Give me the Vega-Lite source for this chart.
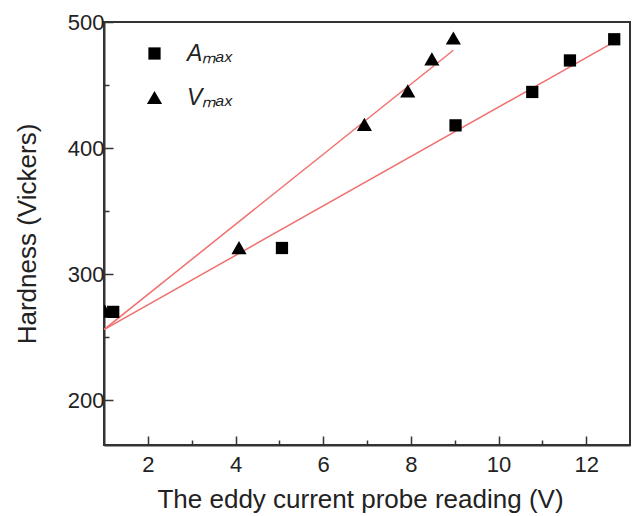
{
  "$schema": "https://vega.github.io/schema/vega-lite/v6.json",
  "width": 526,
  "height": 423,
  "autosize": "none",
  "padding": {"left": 104, "top": 22, "right": 2, "bottom": 71},
  "background": "white",
  "config": {
    "font": "Liberation Sans",
    "view": {"stroke": "#333", "strokeWidth": 2},
    "axis": {
      "grid": false,
      "domainColor": "#333",
      "domainWidth": 2,
      "tickColor": "#333",
      "tickWidth": 1.5,
      "labelFontSize": 22,
      "labelColor": "#222",
      "titleFontSize": 26,
      "titleFontWeight": "normal",
      "titleColor": "#222"
    },
    "legend": {
      "title": null,
      "orient": "none",
      "legendX": 39,
      "legendY": 20,
      "padding": 0,
      "symbolFillColor": "black",
      "symbolStrokeWidth": 0,
      "labelFontSize": 23,
      "labelFontStyle": "italic",
      "labelColor": "#222",
      "labelOffset": 21,
      "rowPadding": 20
    }
  },
  "datasets": {
    "points": [
      {"series": "Aₘₐₓ", "x": 1.21, "y": 270},
      {"series": "Aₘₐₓ", "x": 5.06, "y": 320.7},
      {"series": "Aₘₐₓ", "x": 9.02, "y": 418},
      {"series": "Aₘₐₓ", "x": 10.77, "y": 444.5},
      {"series": "Aₘₐₓ", "x": 11.63, "y": 469.5},
      {"series": "Aₘₐₓ", "x": 12.64, "y": 486.3},
      {"series": "Vₘₐₓ", "x": 1.02, "y": 270.6},
      {"series": "Vₘₐₓ", "x": 4.08, "y": 321},
      {"series": "Vₘₐₓ", "x": 6.94, "y": 418.8},
      {"series": "Vₘₐₓ", "x": 7.93, "y": 445.4},
      {"series": "Vₘₐₓ", "x": 8.48, "y": 470.7},
      {"series": "Vₘₐₓ", "x": 8.97, "y": 487.3}
    ],
    "fits": [
      {"series": "A", "x": 1.0, "y": 256},
      {"series": "A", "x": 12.65, "y": 484.4},
      {"series": "V", "x": 1.0, "y": 256},
      {"series": "V", "x": 8.97, "y": 477.6}
    ]
  },
  "resolve": {"axis": {"x": "independent", "y": "independent"}},
  "layer": [
    {
      "data": {"name": "fits"},
      "mark": {"type": "line", "color": "#f07070", "strokeWidth": 1.5, "clip": true},
      "encoding": {
        "x": {
          "field": "x",
          "type": "quantitative",
          "scale": {"domain": [1, 13], "nice": false, "zero": false},
          "axis": {
            "orient": "bottom",
            "title": null,
            "labels": false,
            "domain": false,
            "values": [3, 5, 7, 9, 11],
            "tickSize": -5
          }
        },
        "y": {
          "field": "y",
          "type": "quantitative",
          "scale": {"domain": [164.4, 500], "nice": false, "zero": false},
          "axis": {
            "orient": "left",
            "title": null,
            "labels": false,
            "domain": false,
            "values": [250, 350, 450],
            "tickSize": -5
          }
        },
        "detail": {"field": "series"}
      }
    },
    {
      "data": {"name": "points"},
      "mark": {"type": "point", "filled": true, "opacity": 1, "clip": true, "color": "black"},
      "encoding": {
        "x": {
          "field": "x",
          "type": "quantitative",
          "scale": {"domain": [1, 13], "nice": false, "zero": false},
          "axis": {
            "orient": "bottom",
            "title": "The eddy current probe reading (V)",
            "values": [2, 4, 6, 8, 10, 12],
            "tickSize": -9,
            "labelPadding": 18,
            "titlePadding": 11,
            "titleX": 256
          }
        },
        "y": {
          "field": "y",
          "type": "quantitative",
          "scale": {"domain": [164.4, 500], "nice": false, "zero": false},
          "axis": {
            "orient": "left",
            "title": "Hardness (Vickers)",
            "values": [200, 300, 400, 500],
            "tickSize": -9,
            "labelPadding": 9,
            "titlePadding": 27
          }
        },
        "shape": {
          "field": "series",
          "type": "nominal",
          "scale": {"domain": ["Aₘₐₓ", "Vₘₐₓ"], "range": ["square", "triangle-up"]}
        },
        "size": {
          "field": "series",
          "type": "nominal",
          "scale": {"domain": ["Aₘₐₓ", "Vₘₐₓ"], "range": [150, 230]}
        }
      }
    }
  ]
}
